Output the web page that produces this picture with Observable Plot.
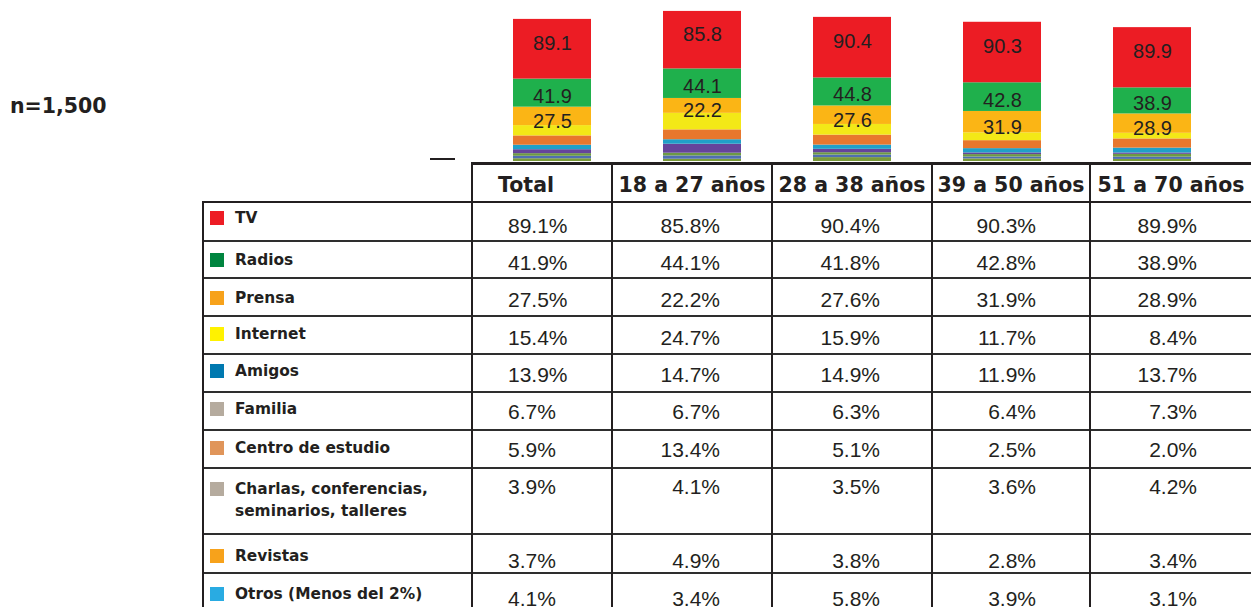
<!DOCTYPE html>
<html><head><meta charset="utf-8">
<script src="https://cdn.jsdelivr.net/npm/d3@7"></script>
<script src="https://cdn.jsdelivr.net/npm/@observablehq/plot@0.6"></script>
<style>
html,body{margin:0;padding:0;background:#fff;}
body{width:1251px;height:607px;overflow:hidden;position:relative;}
.abs{position:absolute;}
.lab{font-family:"DejaVu Sans",sans-serif;font-weight:bold;font-size:15.4px;line-height:22px;color:#231f20;}
.val{font-family:"Liberation Sans",Arial,sans-serif;font-size:21px;line-height:21px;color:#231f20;white-space:nowrap;}
.hdr{font-family:"DejaVu Sans",sans-serif;font-weight:bold;font-size:20.5px;line-height:20.5px;color:#231f20;white-space:nowrap;}
.ln{background:#231f20;}
</style></head>
<body>
<div id="chart" class="abs" style="left:0;top:0;"></div>
<script>
// ---- data ----
const groups = ["Total", "18 a 27 años", "28 a 38 años", "39 a 50 años", "51 a 70 años"];
const media = ["TV", "Radios", "Prensa", "Internet", "Amigos", "Familia", "Centro de estudio",
  "Charlas, conferencias, seminarios, talleres", "Revistas", "Otros (Menos del 2%)"];
const tv       = [89.1, 85.8, 90.4, 90.3, 89.9];
const radios   = [41.9, 44.1, 41.8, 42.8, 38.9];
const prensa   = [27.5, 22.2, 27.6, 31.9, 28.9];
const internet = [15.4, 24.7, 15.9, 11.7, 8.4];
const amigos   = [13.9, 14.7, 14.9, 11.9, 13.7];
const familia  = [6.7, 6.7, 6.3, 6.4, 7.3];
const centro   = [5.9, 13.4, 5.1, 2.5, 2.0];
const charlas  = [3.9, 4.1, 3.5, 3.6, 4.2];
const revistas = [3.7, 4.9, 3.8, 2.8, 3.4];
const otros    = [4.1, 3.4, 5.8, 3.9, 3.1];
const radiosBarLabels = [41.9, 44.1, 44.8, 42.8, 38.9];
const sampleNote = "n=1,500";

// ---- styles ----
const series = [tv, radios, prensa, internet, amigos, familia, centro, charlas, revistas, otros];
const barColors = ["#ec1c24", "#1fb04c", "#fbb515", "#f3e817", "#e8772d", "#20a0c8", "#65449b", "#6d9a44", "#4f6fb0", "#7a9a3a"];
const legendColors = ["#ed1c24", "#00853f", "#f7a21b", "#fff200", "#0079b0", "#b5ab9e", "#e0955a", "#b5ab9e", "#f7a21b", "#29abe2"];

// ---- stacked bars ----
const long = [];
for (let m = media.length - 1; m >= 0; m--) {
  groups.forEach((g, j) => long.push({group: g, medium: media[m], value: series[m][j], j}));
}
const labelOf = {TV: tv, Radios: radiosBarLabels, Prensa: prensa};
const labelDy = {TV: -6, Radios: 3, Prensa: 5};

const chart = Plot.plot({
  width: 1251, height: 162, margin: 0,
  x: {domain: groups, range: [441, 1263], padding: 0.48, axis: null},
  y: {domain: [0, 240.3], range: [161, 0], axis: null},
  color: {domain: media, range: barColors},
  style: {background: "transparent", fontFamily: "'Liberation Sans', Arial, sans-serif"},
  marks: [
    Plot.barY(long, {x: "group", y: "value", fill: "medium"}),
    ...["TV", "Radios", "Prensa"].map(name => Plot.text(long, Plot.stackY({
      x: "group", y: "value", z: "medium",
      text: d => d.medium === name ? labelOf[name][d.j].toFixed(1) : null,
      fontSize: 20, fill: "#231f20", dy: labelDy[name]
    })))
  ]
});
document.getElementById("chart").appendChild(chart);

// ---- table (HTML) ----
const body = document.body;
function div(cls, css, html) {
  const d = document.createElement("div");
  d.className = "abs " + cls;
  Object.assign(d.style, css);
  if (html != null) d.innerHTML = html;
  body.appendChild(d);
  return d;
}
// note
div("hdr", {left: "10px", top: "96px"}, sampleNote);
// small stray mark
div("ln", {left: "430px", top: "158px", width: "25px", height: "1.5px"});

const rowLines = [202, 241, 278, 316, 354, 392, 430, 468, 534, 573, 611];
const colLines = [203, 472, 612, 772, 932, 1090, 1252];
const labelCap = [212, 254, 292, 328, 365, 403, 442, 483, 550, 588];
const valueCap = [218, 255, 292, 330, 367, 404, 442, 479, 553, 591];
const valueRight = [null, 720, 880, 1036, 1197];

// grid lines
div("ln", {left: "471px", top: "162px", width: "790px", height: "2.6px"});
rowLines.forEach((y, i) => {
  const h = i === 0 ? 2.6 : 2;
  div("ln", {left: "202px", top: (y - h / 2) + "px", width: "1060px", height: h + "px", background: i === 0 ? "#231f20" : "#2e2e2e"});
});
colLines.slice(0, 6).forEach((x, i) => {
  const top = i === 0 ? 201 : 162;
  div("ln", {left: (x - 1.25) + "px", top: top + "px", width: "2.5px", height: (620 - top) + "px"});
});

// header
groups.forEach((g, j) => {
  if (j === 0) { div("hdr", {left: "498px", top: "174.6px"}, g); return; }
  const l = colLines[j + 1], r = colLines[j + 2];
  div("hdr", {left: l + "px", top: "174.6px", width: (r - l) + "px", textAlign: "center"}, g);
});

// rows
media.forEach((m, i) => {
  div("", {left: "210px", top: (labelCap[i] - 1) + "px", width: "14px", height: "14px", background: legendColors[i]});
  div("lab", {left: "235px", top: (labelCap[i] - 5.4) + "px", width: "220px"}, m);
  series[i].forEach((v, j) => {
    const t = v.toFixed(1) + "%";
    const top = (valueCap[i] - 2.8) + "px";
    if (j === 0) div("val", {left: "508px", top}, t);
    else div("val", {left: (valueRight[j] - 200) + "px", top, width: "200px", textAlign: "right"}, t);
  });
});
</script>
</body></html>
